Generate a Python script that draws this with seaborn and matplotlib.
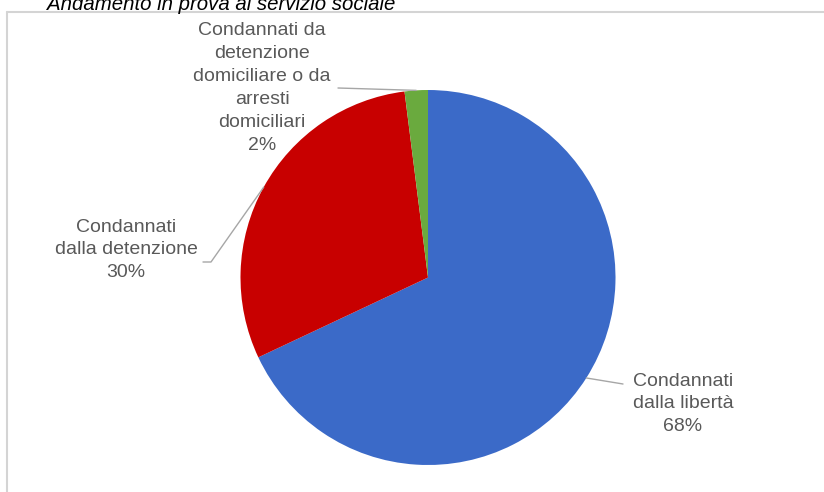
import numpy as np
import matplotlib
matplotlib.use("Agg")
import matplotlib.pyplot as plt
from matplotlib.lines import Line2D
import seaborn as sns

# ---- data ----
title = "Andamento in prova al servizio sociale"
categories = ["Condannati\ndalla libertà",
              "Condannati\ndalla detenzione",
              "Condannati da\ndetenzione\ndomiciliare o da\narresti\ndomiciliari"]
values = [68, 30, 2]
slice_colors = ["#3B6AC8", "#C80000", "#6AAA3E"]

sns.set_theme(style="white")
plt.rcParams['font.family'] = ['Liberation Sans', 'DejaVu Sans']

W, H = 824, 492
fig = plt.figure(figsize=(W / 100, H / 100), dpi=100)
ax = fig.add_axes([0, 0, 1, 1])

R_PX = 187.5
CX, CY = 428, 277.5

wedges, _ = ax.pie(values, colors=sns.color_palette(slice_colors),
                   startangle=90, counterclock=False, radius=1,
                   wedgeprops=dict(linewidth=0))
ax.set_xlim(-CX / R_PX, (W - CX) / R_PX)
ax.set_ylim(-(H - CY) / R_PX, CY / R_PX)
ax.set_aspect('equal')
ax.axis('off')


def px(x, y):
    return (x - CX) / R_PX, (CY - y) / R_PX


label_color = "#595959"
line_color = "#A6A6A6"
fs = 14

# label placements (pixel positions of label centers and leader elbows)
placements = [
    dict(text_xy=(683, 404), elbow=(623, 384)),
    dict(text_xy=(126, 250), elbow=(203, 262), elbow2=(211, 262)),
    dict(text_xy=(262, 88), elbow=(338, 88)),
]

for w, cat, v, pl in zip(wedges, categories, values, placements):
    ang = np.deg2rad((w.theta1 + w.theta2) / 2)
    ex, ey = np.cos(ang), np.sin(ang)
    tx, ty = px(*pl['text_xy'])
    ax.text(tx, ty, f"{cat}\n{v}%", ha='center', va='center',
            fontsize=fs, color=label_color, linespacing=1.45)
    pts = [(ex, ey)]
    if 'elbow2' in pl:
        pts.append(px(*pl['elbow2']))
    pts.append(px(*pl['elbow']))
    xs, ys = zip(*pts)
    ax.plot(xs, ys, color=line_color, lw=1.0)

# chart frame
fig.add_artist(Line2D([7 / W, 7 / W], [0, 1 - 12 / H], color="#D4D4D4", lw=1.5))
fig.add_artist(Line2D([7 / W, 1], [1 - 12 / H, 1 - 12 / H], color="#D4D4D4", lw=1.5))

fig.text(47 / W, 1 - 10 / H, title, fontsize=14.7, style='italic', color='black',
         ha='left', va='baseline')

fig.savefig("out.png", dpi=100, facecolor='white')
